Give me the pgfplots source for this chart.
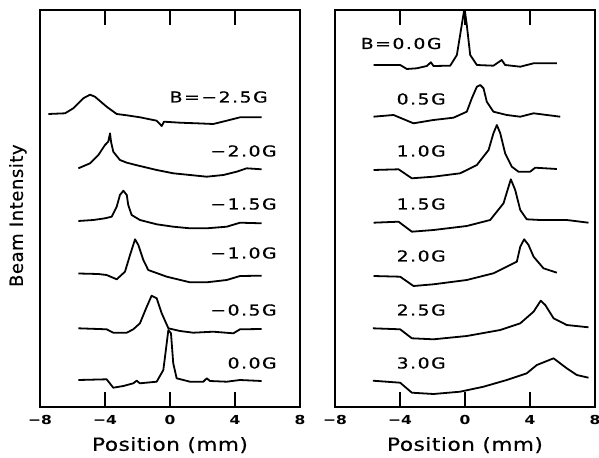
\documentclass[border=0pt]{standalone}
\usepackage{pgfplots}
\pgfplotsset{compat=1.18}
\usepackage{fontspec}
\setmainfont{DejaVu Sans}
\newfontfamily\labfont[FakeStretch=1.25,LetterSpace=10,FakeBold=0.6]{DejaVu Sans}
\newfontfamily\tickfont[FakeStretch=1.25]{DejaVu Sans}
\newfontfamily\xlabfont[FakeStretch=1.2,LetterSpace=3,FakeBold=0.6]{DejaVu Sans}
\newfontfamily\ylabfont[LetterSpace=3,FakeBold=0.6]{DejaVu Sans}

% vertical scale: stacked trace offsets, top = -10, bottom = -407
\pgfplotsset{
  beam/.style={
    scale only axis, width=195pt, height=297.75pt,
    xmin=-8, xmax=8, ymin=-407, ymax=-10,
    xtick={-8,-4,0,4,8},
    xticklabels={−8,−4,0,4,8},
    ytick=\empty,
    tick align=inside, major tick length=11pt,
    xtick pos=both,
    xticklabel style={font=\tickfont\bfseries\fontsize{9.3}{10}\selectfont, yshift=-2.5pt},
    axis line style={line width=1.3pt},
    every tick/.style={black, line width=1.1pt},
    xlabel={Position (mm)},
    xlabel style={font=\xlabfont\fontsize{13.5}{15}\selectfont,
      at={(axis description cs:0.5,-0.096)}, anchor=center},
    clip=true, no markers,
    every axis plot post/.append style={black, solid, line width=1.35pt, line join=round},
  },
}
\tikzset{glab/.style={font=\labfont\fontsize{11.3}{12}\selectfont, inner sep=0pt},
  toptick/.style={black, line width=1.1pt}}

\begin{document}
\begin{tikzpicture}
\path (0,0) rectangle (449.25pt,342.75pt);

% ---------- left panel: B <= 0 ----------
\begin{axis}[beam, at={(30pt,37.5pt)}, anchor=south west,
  ylabel={Beam Intensity},
  ylabel style={font=\ylabfont\fontsize{13.5}{15}\selectfont,
    at={(axis description cs:-0.085,0.482)}, anchor=center, rotate=0}]
\addplot coordinates {
(-7.49,-114) (-6.46,-113.3) (-5.95,-108.3) (-5.34,-98.3) (-4.92,-94.7) (-4.62,-96.7)
(-3.90,-106.7) (-3.28,-114) (-2.66,-115.3) (-1.85,-117.3) (-0.82,-120.7) (-0.51,-126)
(-0.37,-121.7) (0.62,-122.7) (1.64,-123.3) (2.66,-124) (3.49,-120.7) (4.31,-117.3) (5.64,-117.3)};
\addplot coordinates {
(-5.64,-168.3) (-4.92,-163.3) (-4.41,-155) (-4.00,-145) (-3.80,-141.7) (-3.69,-133.3)
(-3.63,-141.7) (-3.49,-151.7) (-3.08,-160) (-2.66,-162.7) (-1.85,-166) (-0.82,-170)
(0.20,-173.3) (1.23,-175) (2.26,-176.7) (3.28,-175) (4.10,-171.7) (4.72,-168.3) (5.64,-169.3)};
\addplot coordinates {
(-5.64,-221) (-4.72,-220) (-4.00,-218.3) (-3.59,-216.7) (-3.28,-206.7) (-3.08,-195)
(-2.87,-190.7) (-2.66,-195) (-2.57,-205) (-2.36,-215) (-1.85,-220) (-0.82,-224.3)
(0.20,-226.7) (1.23,-228.3) (2.26,-228.3) (3.49,-226.7) (4.31,-222.7) (5.64,-223.3)};
\addplot coordinates {
(-5.64,-273.5) (-4.41,-274) (-3.90,-275) (-3.28,-279.3) (-2.77,-271.7) (-2.46,-255)
(-2.15,-239.3) (-1.95,-245) (-1.64,-260) (-1.34,-270) (-0.20,-276.7) (1.23,-282.3)
(2.26,-282.3) (3.49,-280) (4.31,-276) (5.64,-275.7)};
\addplot coordinates {
(-5.64,-328.3) (-3.90,-329.3) (-3.49,-332.7) (-2.66,-332.7) (-2.26,-329.3) (-1.85,-323.3)
(-1.43,-306.7) (-1.13,-295.7) (-0.82,-298.3) (-0.51,-313.3) (-0.10,-328.3) (0.62,-331)
(1.43,-332.7) (2.66,-331.7) (3.90,-333.3) (4.31,-329.3) (5.64,-329)};
\addplot coordinates {
(-5.64,-380) (-3.90,-379.3) (-3.49,-387.7) (-2.87,-386) (-2.26,-383.3) (-2.05,-380.7)
(-1.85,-383.3) (-0.82,-381.7) (-0.41,-370) (-0.10,-330) (0.06,-333.3) (0.20,-363.3)
(0.41,-378.3) (1.23,-381.7) (2.05,-381.7) (2.26,-378.3) (2.46,-381) (3.49,-381.7)
(4.31,-380) (5.64,-381)};
\node[glab, anchor=east] at (axis cs:6.03,-97)  {B=−2.5G};
\node[glab, anchor=east] at (axis cs:6.58,-151) {−2.0G};
\node[glab, anchor=east] at (axis cs:6.58,-204) {−1.5G};
\node[glab, anchor=east] at (axis cs:6.58,-253) {−1.0G};
\node[glab, anchor=east] at (axis cs:6.58,-310) {−0.5G};
\node[glab, anchor=east] at (axis cs:6.58,-363) {0.0G};
\end{axis}

% ---------- right panel: B >= 0 ----------
\begin{axis}[beam, at={(251.25pt,37.5pt)}, anchor=south west]
\addplot coordinates {
(-5.63,-65) (-3.99,-65) (-3.58,-69) (-2.97,-68.3) (-2.35,-66) (-2.10,-62.3) (-1.94,-66)
(-0.91,-65.7) (-0.50,-55) (-0.20,-25) (-0.03,-8) (0.11,-25) (0.32,-55) (0.73,-65)
(1.75,-65.7) (2.26,-60) (2.47,-65) (3.40,-66.7) (4.22,-63.3) (5.65,-63.3)};
\addplot coordinates {
(-5.63,-116.7) (-4.40,-115) (-3.17,-123.3) (-1.94,-120) (-0.71,-117.7) (0.11,-111.7)
(0.42,-98.3) (0.73,-86.7) (0.94,-85) (1.14,-88.3) (1.34,-101.7) (1.75,-111.7)
(2.57,-115) (3.40,-116.7) (4.22,-113.3) (5.86,-116.7)};
\addplot coordinates {
(-5.63,-170) (-4.09,-169.3) (-3.27,-178.3) (-1.94,-176.7) (-0.30,-173.3) (0.73,-165)
(1.45,-150) (1.75,-133.3) (1.96,-125) (2.17,-133.3) (2.47,-153.3) (2.88,-166.7)
(3.29,-171.7) (4.01,-171.7) (4.32,-167.7) (5.65,-169)};
\addplot coordinates {
(-5.63,-222.7) (-4.09,-221.7) (-3.27,-231.7) (-1.94,-230) (0.11,-226) (1.55,-220)
(2.37,-203.3) (2.82,-179.3) (3.09,-190) (3.40,-210) (3.80,-219.3) (4.63,-220)
(6.26,-220) (7.60,-222.7)};
\addplot coordinates {
(-5.63,-276) (-3.99,-276.7) (-3.17,-286) (-1.94,-284.3) (0.11,-280) (1.75,-273.3)
(2.78,-265) (3.19,-261.7) (3.40,-246.7) (3.64,-239.3) (3.91,-245) (4.22,-256.7)
(4.83,-268.3) (5.65,-272.7)};
\addplot coordinates {
(-5.67,-328.3) (-3.99,-329.3) (-3.27,-338.3) (-1.94,-339.3) (0.11,-336) (2.17,-330)
(3.40,-323.3) (4.22,-311.7) (4.66,-300.7) (4.94,-305) (5.45,-318.3) (6.26,-325) (7.60,-327.3)};
\addplot coordinates {
(-5.67,-380.7) (-3.99,-382.7) (-3.27,-392.7) (-1.94,-394) (-0.30,-391.7) (1.14,-386.7)
(2.57,-380) (3.80,-373.3) (4.42,-365) (5.45,-358.3) (6.26,-368.3) (6.88,-375) (7.60,-377.7)};
\node[glab, anchor=west] at (axis cs:-6.43,-43.5) {B=0.0G};
\node[glab, anchor=west] at (axis cs:-4.22,-99)  {0.5G};
\node[glab, anchor=west] at (axis cs:-4.22,-151) {1.0G};
\node[glab, anchor=west] at (axis cs:-4.22,-204) {1.5G};
\node[glab, anchor=west] at (axis cs:-4.22,-256) {2.0G};
\node[glab, anchor=west] at (axis cs:-4.22,-310) {2.5G};
\node[glab, anchor=west] at (axis cs:-4.22,-363) {3.0G};
\end{axis}

% inward ticks on the top edges at -4, 0, 4
\draw[toptick] (78.75pt,335.25pt) -- ++(0,-11pt);
\draw[toptick] (127.5pt,335.25pt) -- ++(0,-11pt);
\draw[toptick] (176.25pt,335.25pt) -- ++(0,-11pt);
\draw[toptick] (300pt,335.25pt) -- ++(0,-11pt);
\draw[toptick] (348.75pt,335.25pt) -- ++(0,-11pt);
\draw[toptick] (397.5pt,335.25pt) -- ++(0,-11pt);

\pgfresetboundingbox
\path (0,0) rectangle (449.25pt,342.75pt);
\end{tikzpicture}
\end{document}
